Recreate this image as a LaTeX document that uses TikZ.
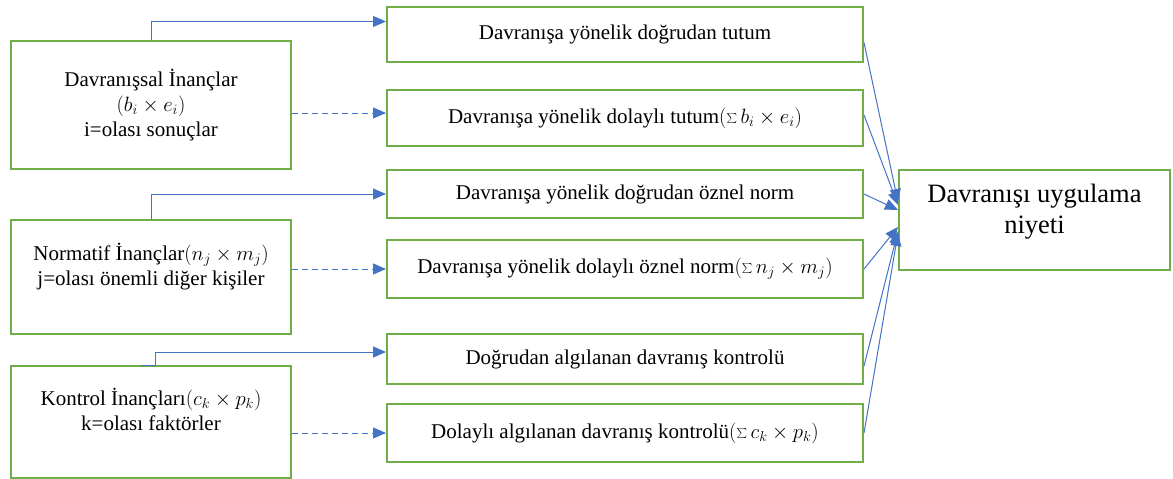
\documentclass[tikz,border=0pt]{standalone}
\usepackage{fontspec}
\setmainfont{Liberation Serif}
\usetikzlibrary{arrows.meta, positioning, calc}
\definecolor{boxgreen}{HTML}{70AD47}
\definecolor{arrowblue}{HTML}{4472C4}
\tikzset{
    belief/.style={rectangle, draw=boxgreen, line width=2pt, anchor=north west,
                   minimum width=280pt, align=center, inner sep=0pt,
                   font=\fontsize{21}{25}\selectfont},
    measure/.style={rectangle, draw=boxgreen, line width=2pt, anchor=north west,
                    minimum width=476pt, align=center, inner sep=0pt,
                    font=\fontsize{21}{25}\selectfont},
    intention/.style={rectangle, draw=boxgreen, line width=2pt, anchor=north west,
                      minimum width=271pt, minimum height=100pt, align=center, inner sep=0pt,
                      font=\fontsize{26.5}{31}\selectfont},
    arrow/.style={-{Triangle[length=13pt, width=11pt]}, draw=arrowblue, line width=1pt},
    dasharrow/.style={arrow, dash pattern=on 6pt off 4pt},
}
\begin{document}
\begin{tikzpicture}[x=1pt, y=-1pt]
    \useasboundingbox (0,0) rectangle (1173,479);

    % belief boxes on the left
    \node[belief, minimum height=128pt] (behav) at (10,40)
        {Davranışsal İnançlar\\$(b_i \times e_i)$\\i=olası sonuçlar};
    \node[belief, minimum height=114pt] (norm) at (10,219)
        {Normatif İnançlar$(n_j \times m_j)$\\j=olası önemli diğer kişiler\\\mbox{}};
    \node[belief, minimum height=112pt] (ctrl) at (10,365)
        {Kontrol İnançları$(c_k \times p_k)$\\k=olası faktörler\\\mbox{}};

    % direct and indirect measures in the middle
    \node[measure, minimum height=55pt] (attDir) at (386,6) {Davranışa yönelik doğrudan tutum};
    \node[measure, minimum height=56pt] (attInd) at (386,89)
        {Davranışa yönelik dolaylı tutum$(\sum b_i \times e_i)$};
    \node[measure, minimum height=48pt] (normDir) at (386,169) {Davranışa yönelik doğrudan öznel norm};
    \node[measure, minimum height=58pt] (normInd) at (386,239)
        {Davranışa yönelik dolaylı öznel norm$(\sum n_j \times m_j)$};
    \node[measure, minimum height=50pt] (ctrlDir) at (386,333) {Doğrudan algılanan davranış kontrolü};
    \node[measure, minimum height=58pt] (ctrlInd) at (386,403)
        {Dolaylı algılanan davranış kontrolü$(\sum c_k \times p_k)$};

    % intention
    \node[intention] (intent) at (898,169) {Davranışı uygulama\\niyeti\\[-8pt]\mbox{}};

    % beliefs to measures
    \draw[arrow] (behav.north) |- ([yshift=13pt]attDir.west);
    \draw[dasharrow] ([yshift=-8pt]behav.east) -- ([yshift=-8pt]behav.east -| attInd.west);
    \draw[arrow] (norm.north) |- (normDir.west);
    \draw[dasharrow] (norm.east |- normInd.west) -- (normInd.west);
    \draw[arrow] ([xshift=-10pt]ctrl.north) -- ([xshift=4pt]ctrl.north)
        |- ([yshift=7pt]ctrlDir.west);
    \draw[dasharrow] (ctrl.east |- ctrlInd.west) -- (ctrlInd.west);

    % measures to intention
    \draw[arrow] ([yshift=-8pt]attDir.east) -- ([yshift=18pt]intent.west);
    \draw[arrow] ([yshift=3pt]attInd.east) -- ([yshift=15pt]intent.west);
    \draw[arrow] (normDir.east) -- ([yshift=10pt]intent.west);
    \draw[arrow] (normInd.east) -- ([yshift=-7pt]intent.west);
    \draw[arrow] ([yshift=-7pt]ctrlDir.east) -- ([yshift=-11pt]intent.west);
    \draw[arrow] (ctrlInd.east) -- ([yshift=-13pt]intent.west);
\end{tikzpicture}
\end{document}
